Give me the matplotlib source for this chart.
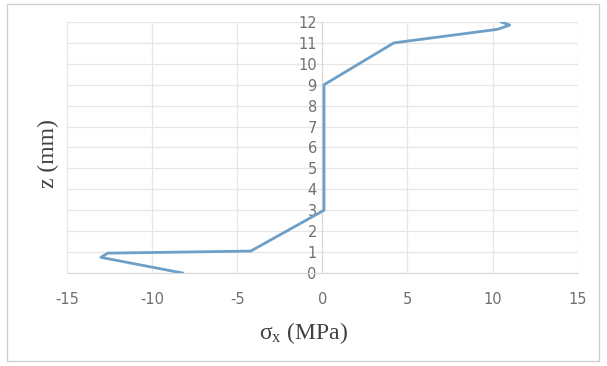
import matplotlib.pyplot as plt
from matplotlib.patches import Rectangle

plt.rcParams['axes.unicode_minus'] = False

# stress profile through the thickness
sigma_x = [-8.2, -13.0, -12.6, -4.2, 0.1, 0.1, 4.2, 10.3, 11.0, 10.5]
z_mm = [0.0, 0.75, 0.95, 1.05, 3.0, 9.0, 11.0, 11.65, 11.85, 12.0]

x_ticks = [-15, -10, -5, 0, 5, 10, 15]
y_ticks = list(range(0, 13))


def main():
    fig = plt.figure(figsize=(6.07, 3.66), dpi=100)
    ax = fig.add_axes([0.11, 0.254, 0.842, 0.686])

    ax.plot(sigma_x, z_mm, color='#6d9fc7', lw=2, solid_joinstyle='round', zorder=5)

    ax.set_xlim(-15, 15)
    ax.set_ylim(0, 12)
    ax.set_xticks(x_ticks)
    ax.set_yticks(y_ticks)
    ax.grid(True, color='#e6e6e6', lw=0.9)
    ax.set_axisbelow(True)

    for s in ['top', 'right']:
        ax.spines[s].set_visible(False)
    ax.spines['left'].set_position(('data', 0))
    ax.spines['left'].set_color('#d9d9d9')
    ax.spines['bottom'].set_color('#d9d9d9')
    ax.tick_params(length=0, labelsize=10.5, colors='#707070')
    ax.tick_params(axis='x', pad=14)
    ax.tick_params(axis='y', pad=4)

    fig.text(0.5, 0.09, r'$\mathregular{σ_x}$ (MPa)', ha='center', va='center',
             fontsize=17, family='Liberation Serif', color='#404040')
    fig.text(0.08, 0.58, 'z (mm)', ha='center', va='center', rotation=90,
             fontsize=17, family='Liberation Serif', color='#404040')

    fig.patches.append(Rectangle((0.012, 0.015), 0.975, 0.975, transform=fig.transFigure,
                                 fill=False, edgecolor='#d0d0d0', lw=1))
    fig.savefig('out.png', dpi=100)


if __name__ == '__main__':
    main()
